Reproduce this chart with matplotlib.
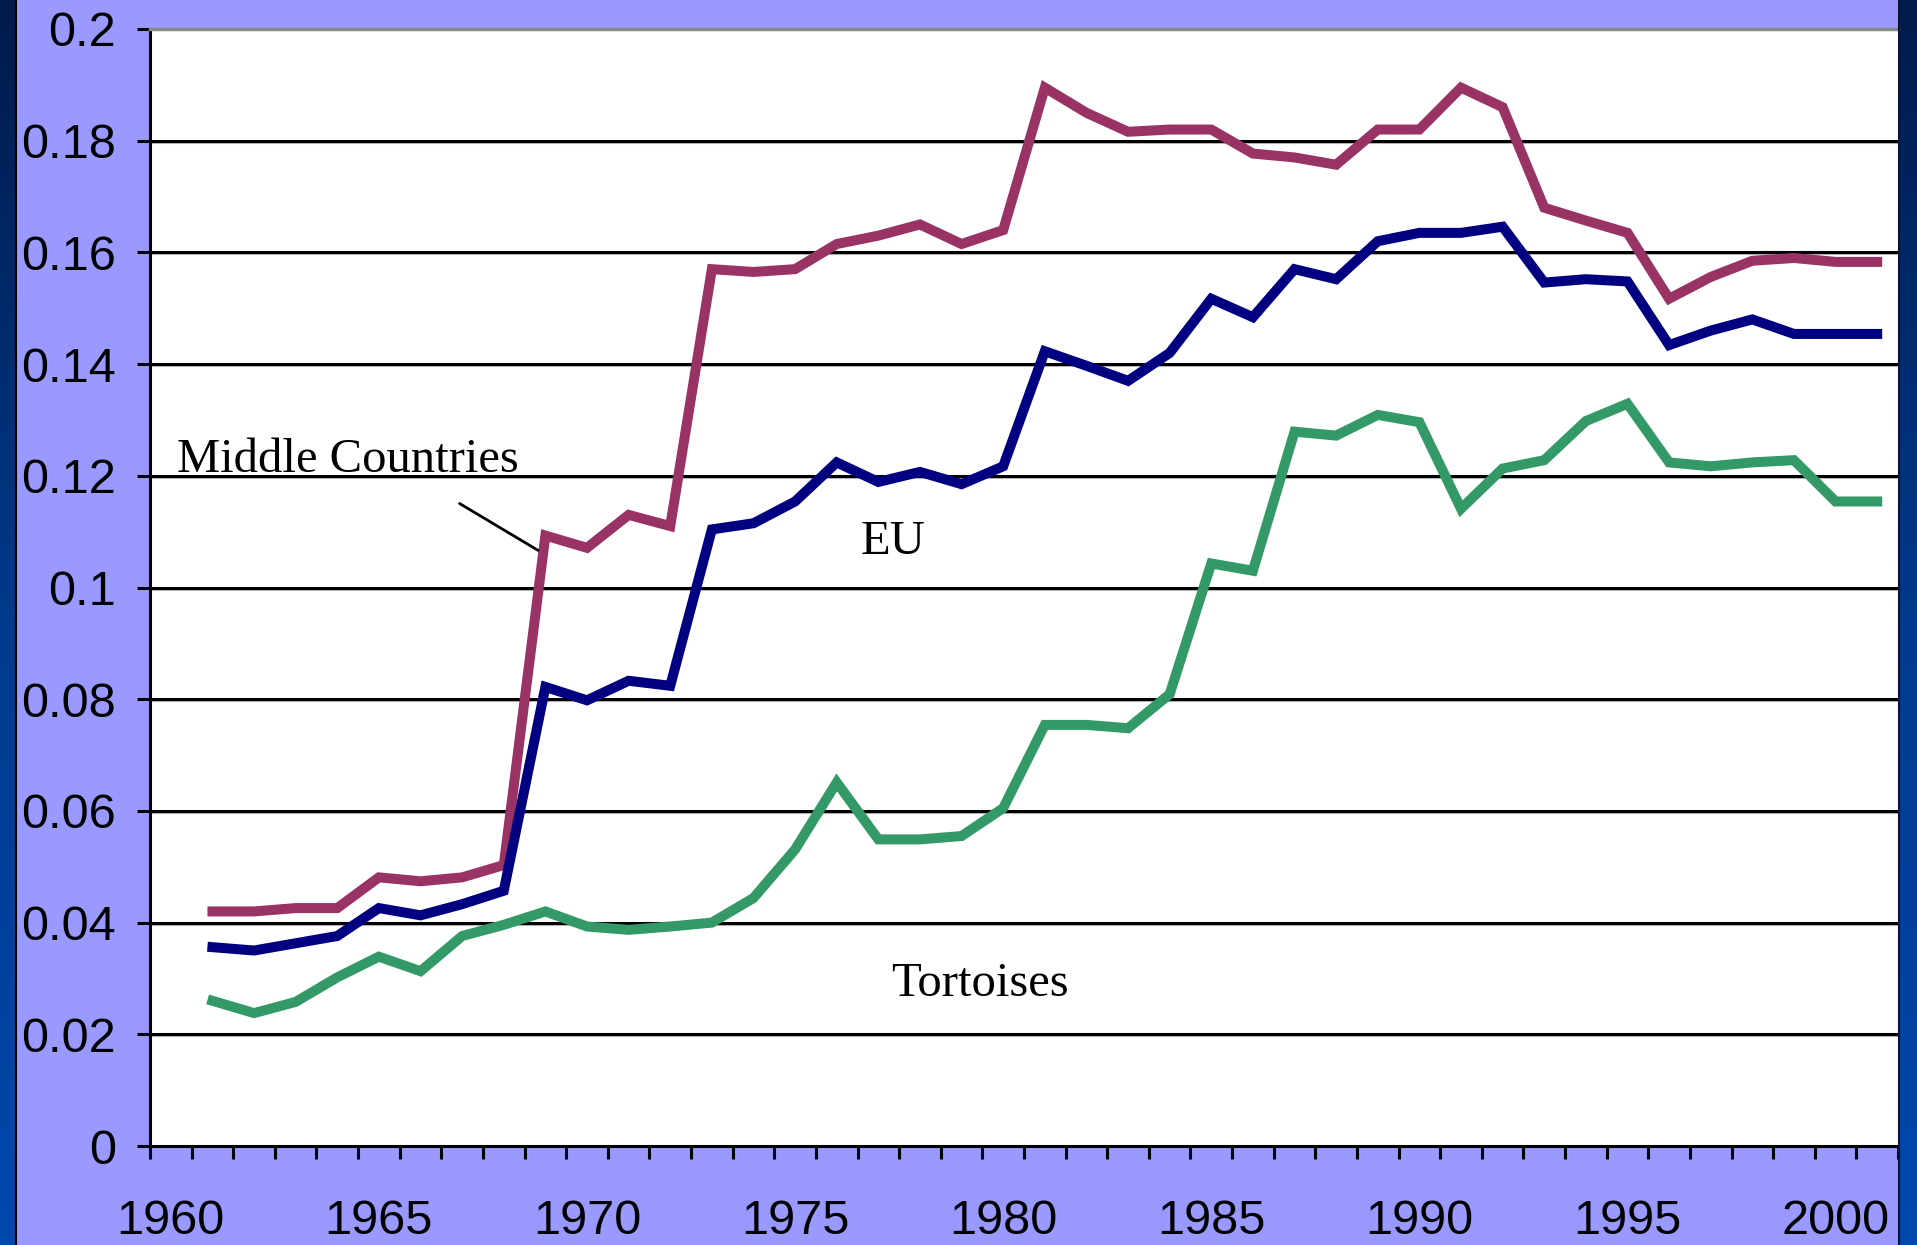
import matplotlib.pyplot as plt
import numpy as np
from matplotlib.ticker import FixedLocator, FuncFormatter
from matplotlib.colors import LinearSegmentedColormap
from matplotlib.transforms import ScaledTranslation

years = list(range(1961, 2002))

middle = [0.0420, 0.0420, 0.0426, 0.0426, 0.0481, 0.0474, 0.0481, 0.0503, 0.1093, 0.1071,
          0.1130, 0.1110, 0.1570, 0.1565, 0.1570, 0.1615, 0.1630, 0.1650, 0.1615, 0.1640,
          0.1895, 0.1850, 0.1816, 0.1820, 0.1820, 0.1777, 0.1770, 0.1757, 0.1820, 0.1820,
          0.1895, 0.1860, 0.1680, 0.1657, 0.1635, 0.1517, 0.1556, 0.1585, 0.1590, 0.1583,
          0.1583]

eu = [0.0356, 0.0350, 0.0363, 0.0376, 0.0426, 0.0413, 0.0433, 0.0457, 0.0822, 0.0798,
      0.0833, 0.0824, 0.1104, 0.1115, 0.1154, 0.1224, 0.1189, 0.1207, 0.1185, 0.1217,
      0.1423, 0.1397, 0.1370, 0.1420, 0.1517, 0.1484, 0.1570, 0.1552, 0.1620, 0.1635,
      0.1635, 0.1646, 0.1546, 0.1552, 0.1548, 0.1434, 0.1460, 0.1480, 0.1454, 0.1454,
      0.1454]

tortoises = [0.0260, 0.0238, 0.0258, 0.0302, 0.0339, 0.0313, 0.0376, 0.0396, 0.0420, 0.0393,
             0.0387, 0.0393, 0.0400, 0.0444, 0.0531, 0.0651, 0.0549, 0.0549, 0.0555, 0.0605,
             0.0754, 0.0754, 0.0748, 0.0809, 0.1043, 0.1030, 0.1279, 0.1272, 0.1309, 0.1296,
             0.1141, 0.1213, 0.1228, 0.1298, 0.1329, 0.1224, 0.1217, 0.1224, 0.1228, 0.1154,
             0.1154]

year_labels = [1960, 1965, 1970, 1975, 1980, 1985, 1990, 1995, 2000]
y_ticks = [0, 0.02, 0.04, 0.06, 0.08, 0.1, 0.12, 0.14, 0.16, 0.18, 0.2]

W, H = 1917, 1245
fig = plt.figure(figsize=(W / 100, H / 100), dpi=100)
fig.patch.set_facecolor('#9999ff')

# dark blue strips at the slide edges
grad = np.linspace(0, 1, 256).reshape(-1, 1)
strip_cmap = LinearSegmentedColormap.from_list('strip', ['#001a4a', '#003a8c', '#0048ad'])
for x0, w in [(0, 15), (1899, 18)]:
    sax = fig.add_axes([x0 / W, 0, w / W, 1])
    sax.imshow(grad, aspect='auto', cmap=strip_cmap, extent=[0, 1, 0, 1], origin='upper')
    sax.set_axis_off()
fig.add_artist(plt.Line2D([15.5 / W, 15.5 / W], [0, 1], color='black', lw=1.5))
fig.add_artist(plt.Line2D([1898.5 / W, 1898.5 / W], [0, 1], color='#111133', lw=1.5))

ax = fig.add_axes([150 / W, 1 - 1146 / H, (1898 - 150) / W, (1146 - 29) / H])
ax.set_facecolor('white')

ax.set_xlim(1959.5, 2001.5)
ax.set_ylim(0, 0.2)

# gridlines with a faint grey shadow underneath
shadow = ax.get_yaxis_transform() + ScaledTranslation(0, -2 / 100, fig.dpi_scale_trans)
for v in y_ticks[1:-1]:
    ax.plot([0, 1], [v, v], color='#b8b8b8', lw=1.5, zorder=1.2, transform=shadow)
    ax.axhline(v, color='black', lw=2.2, zorder=1.5)

lw = 7.2
ax.plot(years, middle, color='#993366', lw=lw, solid_joinstyle='miter', zorder=3)
ax.plot(years, eu, color='#000080', lw=lw, solid_joinstyle='miter', zorder=3)
ax.plot(years, tortoises, color='#339966', lw=lw, solid_joinstyle='miter', zorder=3)

# axes / ticks
ax.spines['right'].set_visible(False)
ax.spines['top'].set_color('#888888')
ax.spines['top'].set_linewidth(2.5)
ax.spines['left'].set_linewidth(2.2)
ax.spines['bottom'].set_linewidth(2.2)

ax.yaxis.set_major_locator(FixedLocator(y_ticks))
ax.yaxis.set_major_formatter(FuncFormatter(lambda v, p: f"{v:g}"))
ax.tick_params(axis='y', direction='out', length=9.5, width=2.2, pad=15,
               labelsize=35, labelcolor='black')

ax.xaxis.set_major_locator(FixedLocator(year_labels))
ax.xaxis.set_minor_locator(FixedLocator(np.arange(1959.5, 2002, 1.0)))
ax.tick_params(axis='x', which='major', length=0, pad=38, labelsize=35)
ax.tick_params(axis='x', which='minor', direction='out', length=9.5, width=2.2)

for lab in ax.get_xticklabels() + ax.get_yticklabels():
    lab.set_fontfamily('Liberation Sans')

serif = 'Liberation Serif'
ax.text(1960.15, 0.1207, 'Middle Countries', fontsize=35, family=serif, va='baseline', zorder=4)
ax.annotate('', xy=(1968.88, 0.1064), xytext=(1966.88, 0.1153),
            arrowprops=dict(arrowstyle='-', color='black', lw=2), zorder=4)
ax.text(1976.57, 0.106, 'EU', fontsize=35, family=serif, va='baseline', zorder=4)
ax.text(1977.31, 0.0269, 'Tortoises', fontsize=35, family=serif, va='baseline', zorder=4)

fig.savefig('out.png', dpi=100, facecolor=fig.get_facecolor())
